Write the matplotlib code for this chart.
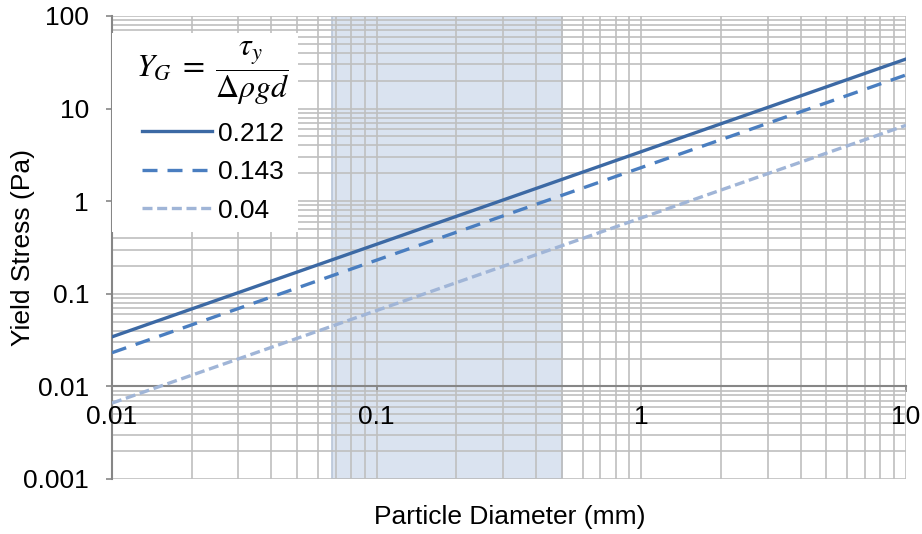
import matplotlib.pyplot as plt
from matplotlib.patches import Rectangle
from matplotlib.ticker import LogLocator, NullFormatter, FixedLocator, FixedFormatter

plt.rcParams['font.family'] = ['Liberation Sans', 'DejaVu Sans']
plt.rcParams['mathtext.fontset'] = 'stix'

# particle diameter (mm), end points of each line
diameter = [0.01, 10]
# yield stress (Pa) at d = 0.01 and d = 10
stress_212 = [0.0343, 34.3]
stress_143 = [0.0231, 23.1]
stress_004 = [0.0066, 6.6]
labels = ['0.212', '0.143', '0.04']

# shaded sand range (mm)
band = [0.068, 0.5]

x_ticks = [0.01, 0.1, 1, 10]
x_ticklabels = ['0.01', '0.1', '1', '10']
y_ticks = [0.001, 0.01, 0.1, 1, 10, 100]
y_ticklabels = ['0.001', '0.01', '0.1', '1', '10', '100']

W, H = 922, 534
fig = plt.figure(figsize=(W / 100, H / 100), dpi=100)
ax = fig.add_axes([112 / W, 1 - 479 / H, (906 - 112) / W, (479 - 16) / H])
ax.set_xscale('log')
ax.set_yscale('log')
ax.set_xlim(0.01, 10)
ax.set_ylim(0.001, 100)

ax.axvspan(band[0], band[1], facecolor='#DAE3F0', edgecolor='#B9C6D8', lw=1.2, zorder=0.5)

grid_col = '#BFBFBF'
ax.grid(True, which='major', color=grid_col, lw=1.2, zorder=0)
ax.grid(True, which='minor', color=grid_col, lw=1.2, zorder=0)
ax.set_axisbelow(True)

ax.plot(diameter, stress_212, color='#3C69A4', lw=2.4, label=labels[0], zorder=3)
ax.plot(diameter, stress_143, color='#4A7EC0', lw=2.4, dashes=(4.5, 3.0), label=labels[1], zorder=3)
ax.plot(diameter, stress_004, color='#A0B5D7', lw=2.4, dashes=(3.0, 1.4), label=labels[2], zorder=3)

ax.xaxis.set_major_locator(FixedLocator(x_ticks))
ax.xaxis.set_minor_locator(LogLocator(base=10, subs=range(2, 10)))
ax.xaxis.set_minor_formatter(NullFormatter())
ax.yaxis.set_major_locator(FixedLocator(y_ticks))
ax.yaxis.set_major_formatter(FixedFormatter(y_ticklabels))
ax.yaxis.set_minor_locator(LogLocator(base=10, subs=range(2, 10)))
ax.yaxis.set_minor_formatter(NullFormatter())

for s in ['top', 'right']:
    ax.spines[s].set_visible(False)
ax.spines['bottom'].set_position(('data', 0.01))
ax.spines['bottom'].set_color('#868686')
ax.spines['left'].set_color('#868686')
ax.spines['bottom'].set_linewidth(1.5)
ax.spines['left'].set_linewidth(1.5)
ax.tick_params(which='major', length=4.5, width=1.2, color='#868686', labelsize=19, direction='out')
ax.tick_params(which='minor', length=0)
ax.tick_params(axis='x', labelbottom=False)
ax.tick_params(axis='y', pad=12)

# x tick labels sit just under the axis line at y = 0.01
for xv, xl in zip(x_ticks, x_ticklabels):
    ax.annotate(xl, xy=(xv, 0.01), xytext=(0, -31), textcoords='offset pixels',
                ha='center', va='center', fontsize=19, annotation_clip=False)

fig.text(23 / W, 1 - 248 / H, 'Yield Stress (Pa)', fontsize=19, rotation=90,
         ha='center', va='center')
fig.text(510 / W, 1 - 517 / H, 'Particle Diameter (mm)', fontsize=19,
         ha='center', va='center')

# white box behind the legend
box = Rectangle((112 / W, 1 - 232 / H), (298 - 112) / W, (232 - 33) / H,
                transform=fig.transFigure, facecolor='white', edgecolor='none', zorder=4)
ax.add_patch(box)

leg = ax.legend(title=r'$Y_G\;=\;\dfrac{\tau_y}{\Delta\rho g d}$', loc='upper left',
                bbox_to_anchor=(136 / W, 1 - 40 / H), bbox_transform=fig.transFigure,
                fontsize=19, title_fontsize=23, frameon=False,
                handlelength=2.65, handletextpad=0.23, labelspacing=0.55,
                borderpad=0, borderaxespad=0)
leg.set_zorder(5)

fig.savefig('out.png', dpi=100)
